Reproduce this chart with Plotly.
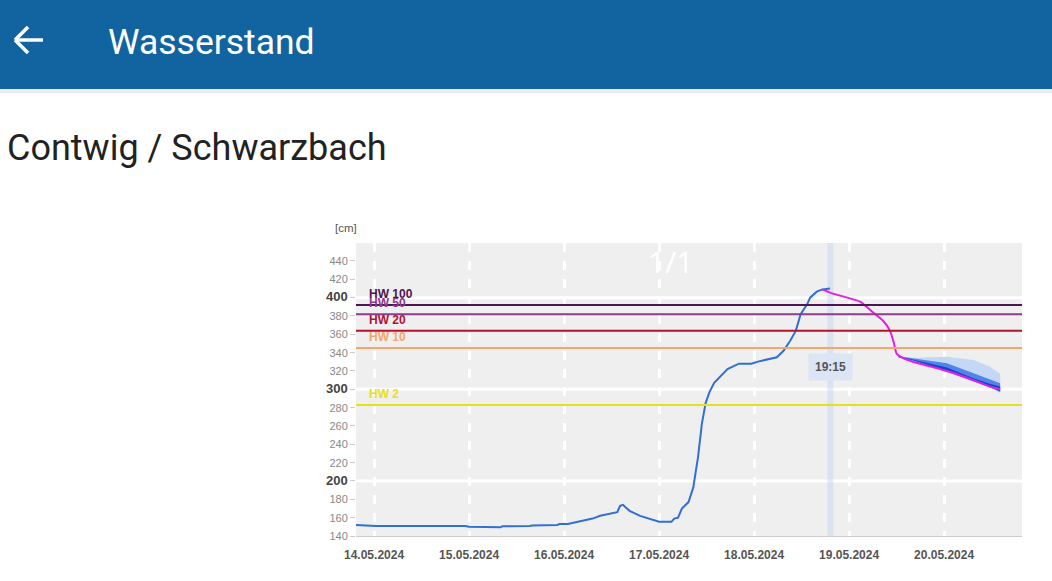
import pandas as pd
import plotly.graph_objects as go

W, H = 1052, 581

# observed water level (days after 14.05.2024 00:00, cm)
obs_days = [-0.19, 0.0, 0.02, 0.96, 1.0, 1.33, 1.35, 1.64, 1.66, 1.93, 1.95, 2.04,
            2.14, 2.3, 2.38, 2.5, 2.56, 2.59, 2.62, 2.65, 2.69, 2.8, 2.9, 3.0,
            3.13, 3.16, 3.2, 3.24, 3.31, 3.36, 3.41, 3.45, 3.49, 3.53, 3.58, 3.64,
            3.72, 3.84, 3.97, 4.07, 4.24, 4.31, 4.38, 4.44, 4.49, 4.56, 4.59, 4.66,
            4.72, 4.80]
obs_level = [152, 151.5, 151, 151, 150, 149.5, 150.5, 151, 151.5, 152, 153, 153,
             155, 159, 162, 164.5, 166, 173, 174, 171, 167.5, 162, 158.5, 155.5,
             155.5, 159, 160, 170, 177, 193, 226, 262, 285, 297, 307, 313,
             322, 328, 328, 331, 335, 342, 353, 364, 382, 393, 400, 406.5,
             409, 410]

# forecast
fc_days = [4.72, 4.80, 4.98, 5.12, 5.25, 5.36, 5.43, 5.47, 5.50, 5.54, 5.67, 5.85,
           6.03, 6.31, 6.48, 6.59]
fc_level = [409, 405.5, 400, 395.5, 384, 374.5, 364, 351, 339, 335.6, 330, 325,
            320, 310, 303, 300]

# forecast uncertainty bands
band_days = [5.52, 5.67, 5.85, 6.03, 6.31, 6.48, 6.59]
outer_hi = [336, 334.5, 335, 335.6, 332, 325, 317]
outer_lo = [335, 331, 325, 318.5, 308, 302, 296]
mid_hi = [336, 333.8, 331, 328.4, 317.5, 311, 306.6]
mid_lo = [335, 331.5, 325.5, 319.5, 308.5, 302.5, 297]
inner_hi = [336, 332.5, 327.5, 323.7, 312, 306, 303]
inner_lo = [335, 331.8, 326, 320, 309, 303, 298]

# flood marks
hw_names = ["HW 100", "HW 50", "HW 20", "HW 10", "HW 2"]
hw_levels = [392, 382, 364, 345, 283]
hw_colors = ["#4b1650", "#8d3b8e", "#b5122e", "#f5a66a", "#e6e01c"]

tick_dates = ["2024-05-14", "2024-05-15", "2024-05-16", "2024-05-17",
              "2024-05-18", "2024-05-19", "2024-05-20"]
tick_labels = ["14.05.2024", "15.05.2024", "16.05.2024", "17.05.2024",
               "18.05.2024", "19.05.2024", "20.05.2024"]
y_ticks = list(range(140, 441, 20))
y_major = [200, 300, 400]
now_time = "2024-05-18 19:15"

base = pd.Timestamp("2024-05-14")
def to_time(days):
    return base + pd.to_timedelta(days, unit="D")

def px(x):
    return x / W

def py(y):
    return 1 - y / H

fig = go.Figure()

# bands
for hi, lo, col in [(outer_hi, outer_lo, "#c4d7f5"), (mid_hi, mid_lo, "#4f85ea"),
                    (inner_hi, inner_lo, "#1443c8")]:
    fig.add_trace(go.Scatter(x=to_time(band_days), y=hi, mode="lines",
                             line=dict(width=0, color=col), showlegend=False))
    fig.add_trace(go.Scatter(x=to_time(band_days), y=lo, mode="lines",
                             line=dict(width=0, color=col), fill="tonexty",
                             fillcolor=col, showlegend=False))

fig.add_trace(go.Scatter(x=to_time(obs_days), y=obs_level, mode="lines",
                         line=dict(color="#3170d2", width=2), showlegend=False))
fig.add_trace(go.Scatter(x=to_time(fc_days), y=fc_level, mode="lines",
                         line=dict(color="#e51ee5", width=2, shape="spline", smoothing=0.5),
                         showlegend=False))

# white horizontal grid at 200/300/400
for v in y_major:
    fig.add_shape(type="line", xref="x domain", x0=0, x1=1, y0=v, y1=v,
                  line=dict(color="white", width=3), layer="below")

# now band
fig.add_vrect(x0=pd.Timestamp(now_time) - pd.Timedelta(minutes=45),
              x1=pd.Timestamp(now_time) + pd.Timedelta(minutes=45),
              fillcolor="rgba(190,212,240,0.45)", line_width=0, layer="below")

# flood lines + labels
for name, lvl, col in zip(hw_names, hw_levels, hw_colors):
    fig.add_shape(type="line", xref="x domain", x0=0, x1=1, y0=lvl, y1=lvl,
                  line=dict(color=col, width=2))
    fig.add_annotation(xref="x domain", x=0.016, y=lvl, text="<b>" + name + "</b>",
                       showarrow=False, xanchor="left", yanchor="bottom", yshift=2,
                       font=dict(color=col, size=12, family="Liberation Sans"))

# header
fig.add_shape(type="rect", xref="paper", yref="paper", x0=0, x1=1, y0=py(89), y1=1,
              fillcolor="#11649f", line_width=0)
fig.add_shape(type="rect", xref="paper", yref="paper", x0=0, x1=1, y0=py(93), y1=py(89),
              fillcolor="#ececec", line_width=0)
for x0, y0, x1, y1 in [(15, 40, 43, 40), (15, 40, 28, 27), (15, 40, 28, 53)]:
    fig.add_shape(type="line", xref="paper", yref="paper", x0=px(x0), y0=py(y0),
                  x1=px(x1), y1=py(y1), line=dict(color="white", width=3.5))
fig.add_annotation(xref="paper", yref="paper", x=px(106), y=py(42), text="Wasserstand",
                   showarrow=False, xanchor="left", yanchor="middle",
                   font=dict(color="white", size=35.5, family="Roboto"))
fig.add_annotation(xref="paper", yref="paper", x=px(5), y=py(148),
                   text="Contwig / Schwarzbach", showarrow=False, xanchor="left",
                   yanchor="middle", font=dict(color="#222222", size=36, family="Roboto"))

fig.add_annotation(xref="paper", yref="paper", x=px(333), y=py(228), text="[cm]",
                   showarrow=False, font=dict(color="#555555", size=11.5,
                                              family="Liberation Sans"))
fig.add_annotation(x=pd.Timestamp("2024-05-17 03:00"), y=439, text="1/1", showarrow=False,
                   font=dict(color="white", size=30, family="Open Sans"))
fig.add_annotation(x=pd.Timestamp(now_time), y=324, text="<b>19:15</b>", showarrow=False,
                   bgcolor="#dbe5f3", borderpad=6,
                   font=dict(color="#555555", size=12, family="Liberation Sans"))

y_text = []
for v in y_ticks:
    if v in y_major:
        y_text.append('<b><span style="font-size:13px;fill:#444">' + str(v) + "</span></b>")
    else:
        y_text.append(str(v))

fig.update_layout(
    width=W, height=H, autosize=False,
    margin=dict(l=0, r=0, t=0, b=0, autoexpand=False),
    paper_bgcolor="white", plot_bgcolor="#efefef",
    xaxis=dict(domain=[px(356), px(1022)], type="date", automargin=False,
               range=[to_time(-0.19), to_time(6.82)],
               tickvals=pd.to_datetime(tick_dates), ticktext=["<b>" + t + "</b>" for t in tick_labels],
               showgrid=True, gridcolor="white", gridwidth=3, griddash="dash",
               showline=True, linecolor="#cccccc", linewidth=1, ticks="",
               ticklabelstandoff=8,
               tickfont=dict(color="#555555", size=12, family="Liberation Sans"),
               zeroline=False, fixedrange=True),
    yaxis=dict(domain=[py(536), py(243)], range=[140, 459.6], automargin=False,
               tickvals=y_ticks, ticktext=y_text, showgrid=False, zeroline=False,
               ticks="outside", ticklen=5, tickcolor="#cccccc",
               tickfont=dict(color="#888888", size=11, family="Liberation Sans"),
               fixedrange=True),
)

# page without body margin so the figure fills the window
fig.write_html("out.html", config={"displayModeBar": False},
               post_script="document.body.style.margin='0px';document.body.style.overflow='hidden';")
